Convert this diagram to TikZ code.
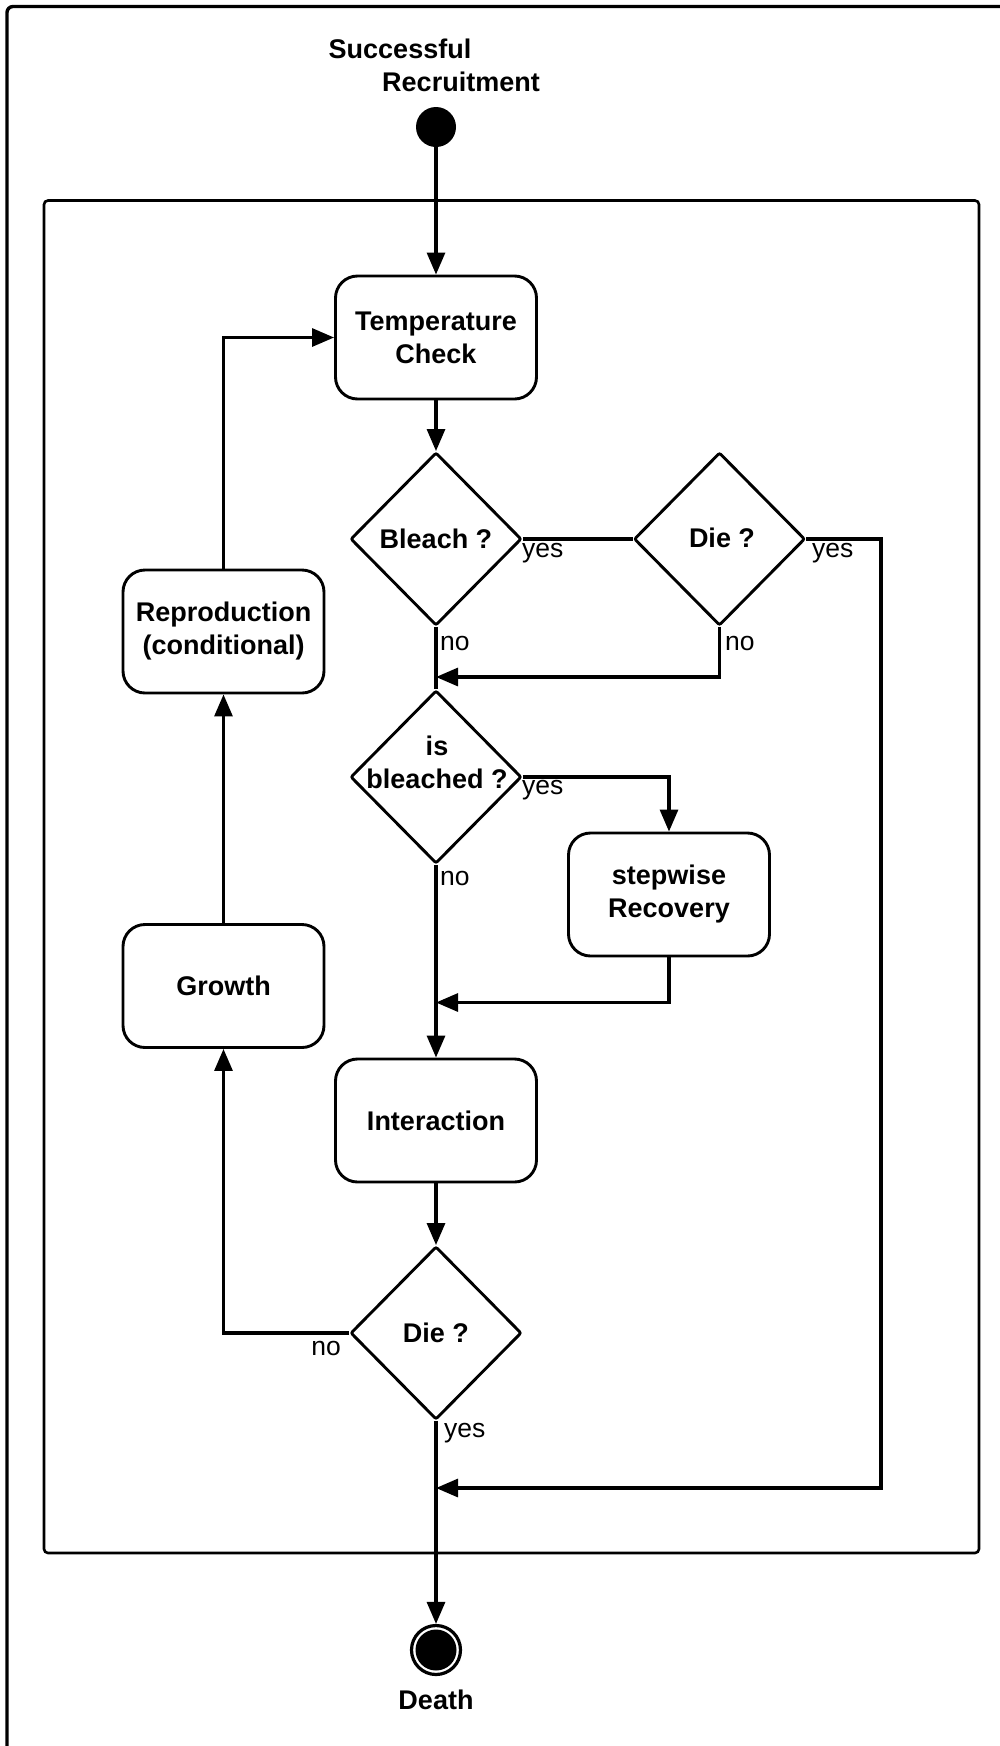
\documentclass[tikz,border=0pt]{standalone}
\usepackage{fontspec}
\setmainfont{Liberation Sans}
\usetikzlibrary{arrows.meta,shapes.geometric}
\tikzset{
  actbox/.style={draw, line width=2.9pt, rounded corners=22pt, minimum width=201pt, minimum height=123pt, inner sep=0pt, align=center, font=\fontsize{27}{33}\selectfont\bfseries},
  dia/.style={draw, diamond, line width=2.9pt, minimum width=171pt, minimum height=173pt, inner sep=0pt, rounded corners=2pt},
  btxt/.style={inner sep=0pt, align=center, font=\fontsize{27}{33}\selectfont\bfseries},
  lbl/.style={inner sep=0pt, font=\fontsize{26.5}{30}\selectfont},
  conn/.style={line width=3.1pt},
  arr/.style={line width=3.1pt, -{Triangle[length=22pt, width=18pt]}},
}
\begin{document}
\begin{tikzpicture}[x=1pt, y=-1pt]
\useasboundingbox (0,0) rectangle (1000,1746);
\begin{scope}
\clip (0,0) rectangle (1000,1746);
\draw[line width=3.4pt, rounded corners=6pt] (7,6.5) rectangle (1060,1800);
\end{scope}
\draw[line width=2.6pt, rounded corners=4pt] (44,200.5) rectangle (979,1553);

% start / end
\node[btxt, anchor=base] (sr1) at (400,58) {Successful};
\node[btxt, anchor=base] (sr2) at (461,91) {Recruitment};
\node[circle, fill, minimum size=40pt, inner sep=0pt] (start) at (436,127) {};

% activities
\node[actbox] (tc) at (436,337.5) {Temperature\\Check};
\node[actbox] (repro) at (223.5,631.5) {Reproduction\\(conditional)};
\node[actbox] (growth) at (223.5,986) {Growth};
\node[actbox] (recov) at (669,894.5) {stepwise\\Recovery};
\node[actbox] (inter) at (436,1120.5) {Interaction};

% decisions
\node[dia] (bl) at (436,539) {};
\node[btxt] (blt) at (436,539) {Bleach ?};
\node[dia] (die1) at (719.5,539) {};
\node[btxt] (die1t) at (722,538) {Die ?};
\node[dia] (isb) at (436,777) {};
\node[btxt] (isbt) at (437,762) {is\\bleached ?};
\node[dia] (die2) at (436,1333) {};
\node[btxt] (die2t) at (436,1333) {Die ?};

% final state
\node[circle, draw, line width=3.2pt, minimum size=49pt, inner sep=0pt] (end) at (436,1650) {};
\fill (end.center) circle (20.5pt);
\node[btxt] (death) at (436,1700) {Death};

% junction coordinates
\coordinate (j1) at (436,677);
\coordinate (j2) at (436,1002.5);
\coordinate (j3) at (436,1488);
\coordinate (c1) at (881,539);

% connectors
\draw[arr] (start) -- (tc);
\draw[arr] (tc) -- (bl.north);
\draw[conn] (bl.east) -- (die1.west);
\draw[arr] (die1.east) -- (c1) |- (j3);
\draw[arr] (die1.south) |- (j1);
\draw[conn] (bl.south) -- (isb.north);
\draw[arr] (isb.east) -| (recov.north);
\draw[arr] (recov.south) |- (j2);
\draw[arr] (isb.south) -- (inter.north);
\draw[arr] (inter.south) -- (die2.north);
\draw[arr] (die2.west) -| (growth.south);
\draw[arr] (growth.north) -- (repro.south);
\draw[arr] (repro.north) |- (tc.west);
\draw[arr] (die2.south) -- (end.north);

% labels
\node[lbl, anchor=west] (l1) at (522,553) {yes};
\node[lbl, anchor=west] (l2) at (440,643) {no};
\node[lbl, anchor=west] (l3) at (812,553) {yes};
\node[lbl, anchor=west] (l4) at (725,643) {no};
\node[lbl, anchor=west] (l5) at (522,790) {yes};
\node[lbl, anchor=west] (l6) at (440,878) {no};
\node[lbl, anchor=east] (l7) at (341,1348) {no};
\node[lbl, anchor=west] (l8) at (444,1433) {yes};
\end{tikzpicture}
\end{document}
